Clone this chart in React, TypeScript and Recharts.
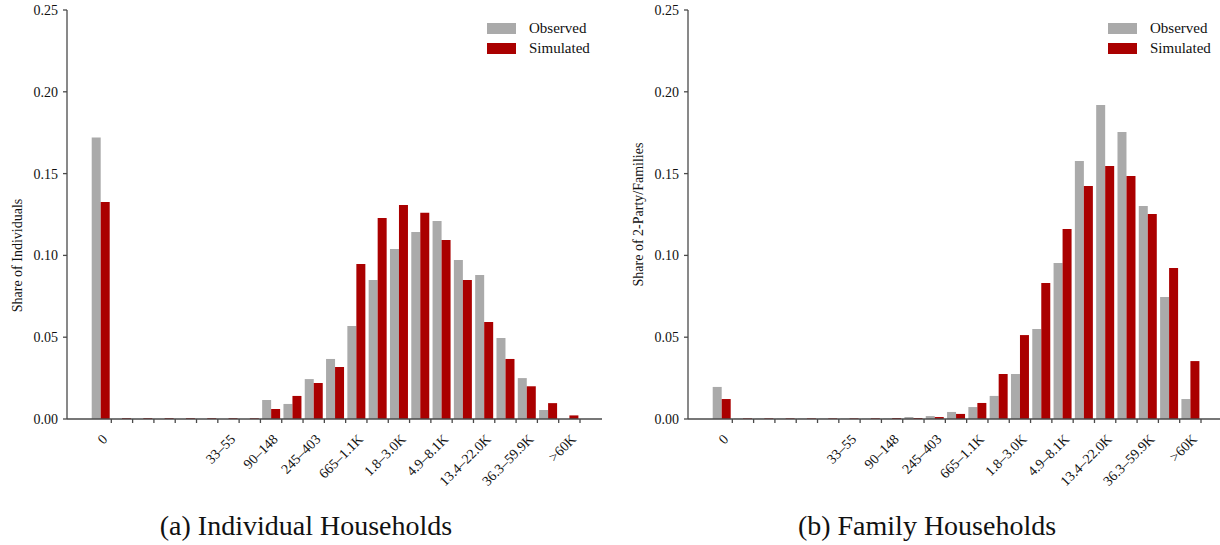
import React from 'react';
import { BarChart, Bar, XAxis, YAxis, Legend } from 'recharts';

// Income bins: only every other bin carries a label on the axis
const tickLabels = [
  '0', '', '', '', '', '', '33–55', '', '90–148', '', '245–403', '',
  '665–1.1K', '', '1.8–3.0K', '', '4.9–8.1K', '', '13.4–22.0K', '', '36.3–59.9K', '', '>60K',
];

const indivObserved = [
  0.172, 0, 0, 0, 0, 0, 0, 0, 0.0116, 0.0092, 0.0244, 0.0367, 0.0568, 0.085,
  0.1039, 0.1143, 0.121, 0.0972, 0.088, 0.0495, 0.025, 0.0055, 0,
];
const indivSimulated = [
  0.1326, 0.0005, 0.0005, 0.0005, 0.0005, 0.0005, 0.0005, 0.0005, 0.0061, 0.0141,
  0.022, 0.0318, 0.0947, 0.1229, 0.1308, 0.126, 0.1094, 0.085, 0.0593, 0.0367,
  0.02, 0.0097, 0.0022,
];

const famObserved = [
  0.0196, 0.0002, 0.0002, 0.0002, 0.0002, 0.0002, 0.0002, 0.0002, 0.0003, 0.0012,
  0.0018, 0.0043, 0.0073, 0.0141, 0.0275, 0.055, 0.0954, 0.1577, 0.1919, 0.1754,
  0.1302, 0.0746, 0.0122,
];
const famSimulated = [
  0.0122, 0.0004, 0.0004, 0.0004, 0.0004, 0.0004, 0.0004, 0.0004, 0.0006, 0.0006,
  0.0012, 0.0031, 0.0098, 0.0275, 0.0513, 0.0831, 0.1161, 0.1424, 0.1546, 0.1485,
  0.1253, 0.0923, 0.0354,
];

const yTicks = [0, 0.05, 0.1, 0.15, 0.2, 0.25];

const GRAY = '#aaaaaa';
const RED = '#aa0000';
const AXIS = '#4a4a4a';
const FONT = 'Liberation Serif, DejaVu Serif, serif';

const CHART_W = 610;
const CHART_H = 545;
const Y_AXIS_W = 67;
const MARGIN = { top: 10, right: 8, bottom: 66, left: 0 };
const PAD = { left: 23, right: 22 };
const BAND =
  (CHART_W - MARGIN.right - MARGIN.left - Y_AXIS_W - PAD.left - PAD.right) / tickLabels.length;

const buildRows = (observed: number[], simulated: number[]) =>
  tickLabels.map((_, i) => ({ bin: i, observed: observed[i], simulated: simulated[i] }));

// tick sits on the right edge of each bin, label rotated and ending at the tick
const BinTick = (props: any) => {
  const { x, y, payload } = props;
  const tx = x + BAND / 2;
  const label = tickLabels[payload.value];
  const px = tx - 3;
  const py = y + 21;
  return (
    <g>
      <line x1={tx} x2={tx} y1={y} y2={y + 4} stroke={AXIS} strokeWidth={1.3} />
      {label ? (
        <text
          x={px}
          y={py}
          textAnchor="end"
          fontSize={14}
          fontFamily={FONT}
          fill="#111"
          transform={`rotate(-45, ${px}, ${py})`}
        >
          {label}
        </text>
      ) : null}
    </g>
  );
};

const AxisTitle = (props: any) => {
  const { viewBox, value, shift } = props;
  const cx = viewBox.x + 17;
  const cy = viewBox.y + viewBox.height / 2 + shift;
  return (
    <text
      x={cx}
      y={cy}
      textAnchor="middle"
      dominantBaseline="central"
      fontSize={14}
      fontFamily={FONT}
      fill="#111"
      transform={`rotate(-90, ${cx}, ${cy})`}
    >
      {value}
    </text>
  );
};

const LegendBox = (props: any) => {
  const { payload } = props;
  return (
    <div style={{ fontFamily: FONT }}>
      {(payload || []).map((entry: any) => (
        <div key={entry.value} style={{ display: 'flex', alignItems: 'center', height: 20 }}>
          <span style={{ display: 'inline-block', width: 29, height: 11, background: entry.color }} />
          <span style={{ marginLeft: 13, fontSize: 15, color: '#111' }}>{entry.value}</span>
        </div>
      ))}
    </div>
  );
};

interface PanelProps {
  left: number;
  observed: number[];
  simulated: number[];
  yTitle: string;
  yTitleShift: number;
  caption: string;
}

const Panel: React.FC<PanelProps> = ({ left, observed, simulated, yTitle, yTitleShift, caption }) => {
  const rows = buildRows(observed, simulated);
  return (
    <div style={{ position: 'absolute', left, top: 0, width: CHART_W, height: CHART_H }}>
      <BarChart
        width={CHART_W}
        height={CHART_H}
        data={rows}
        margin={MARGIN}
        barCategoryGap="8%"
        barGap={0}
      >
        <XAxis
          dataKey="bin"
          type="category"
          interval={0}
          padding={PAD}
          height={60}
          tickSize={0}
          tickMargin={0}
          tickLine={false}
          axisLine={{ stroke: AXIS, strokeWidth: 1.3 }}
          tick={<BinTick />}
        />
        <YAxis
          width={Y_AXIS_W}
          domain={[0, 0.25]}
          ticks={yTicks}
          tickFormatter={(v: number) => v.toFixed(2)}
          tickSize={4}
          tickMargin={5}
          tick={{ fontSize: 14, fontFamily: FONT, fill: '#111' }}
          tickLine={{ stroke: AXIS, strokeWidth: 1.3 }}
          axisLine={{ stroke: AXIS, strokeWidth: 1.3 }}
          label={<AxisTitle value={yTitle} shift={yTitleShift} />}
        />
        <Legend
          layout="vertical"
          align="center"
          verticalAlign="middle"
          content={<LegendBox />}
          wrapperStyle={{ top: 18, left: 487, width: 120, bottom: 'auto', right: 'auto' }}
        />
        <Bar dataKey="observed" name="Observed" fill={GRAY} isAnimationActive={false} />
        <Bar dataKey="simulated" name="Simulated" fill={RED} isAnimationActive={false} />
      </BarChart>
      <div
        style={{
          position: 'absolute',
          left: 0,
          top: 512,
          width: 612,
          textAlign: 'center',
          fontFamily: FONT,
          fontSize: 28,
          lineHeight: '28px',
          color: '#111',
        }}
      >
        {caption}
      </div>
    </div>
  );
};

const App: React.FC = () => (
  <div
    style={{
      position: 'absolute',
      left: 0,
      top: 0,
      width: 1220,
      height: 545,
      overflow: 'hidden',
      background: '#fff',
    }}
  >
    <Panel
      left={0}
      observed={indivObserved}
      simulated={indivSimulated}
      yTitle="Share of Individuals"
      yTitleShift={41}
      caption="(a) Individual Households"
    />
    <Panel
      left={621}
      observed={famObserved}
      simulated={famSimulated}
      yTitle="Share of 2-Party/Families"
      yTitleShift={0}
      caption="(b) Family Households"
    />
  </div>
);

export default App;
